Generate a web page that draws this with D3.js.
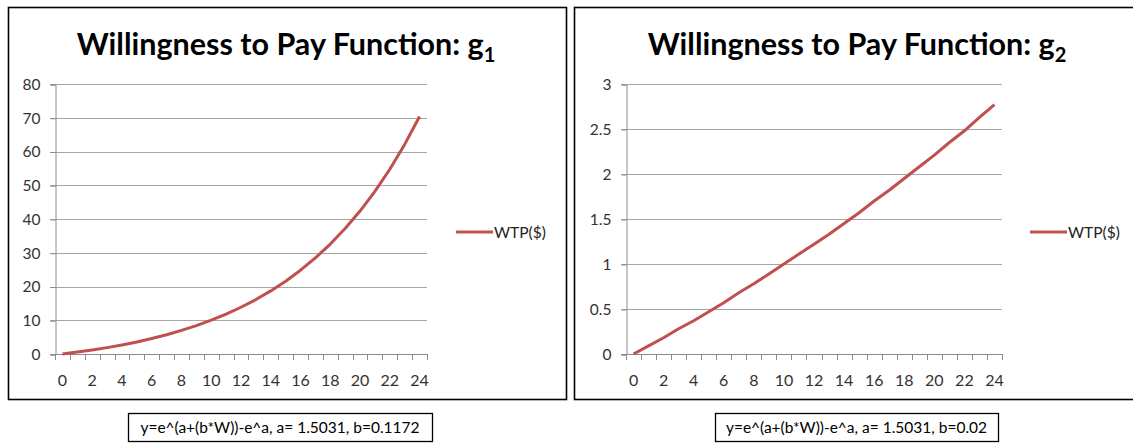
<!DOCTYPE html>
<html><head><meta charset="utf-8">
<script src="https://cdn.jsdelivr.net/npm/d3@7"></script>
<style>
body{margin:0;background:#fff;}
svg{display:block;}
text{font-family:Lato,"Open Sans",sans-serif;}
</style></head>
<body>
<svg id="c" width="1133" height="447"></svg>
<script>
// ---- data ----
const wealth = [0,1,2,3,4,5,6,7,8,9,10,11,12,13,14,15,16,17,18,19,20,21,22,23,24];
const wtpG1 = [0,0.56,1.19,1.89,2.69,3.58,4.59,5.72,6.99,8.41,10.02,11.82,13.85,16.13,18.70,21.58,24.83,28.47,32.57,37.18,42.36,48.19,54.74,62.10,70.38];
const wtpG2 = [0,0.09,0.18,0.28,0.37,0.47,0.57,0.68,0.78,0.89,1.00,1.11,1.22,1.33,1.45,1.57,1.70,1.82,1.95,2.08,2.21,2.35,2.48,2.63,2.77];
const xTickLabels = [0,2,4,6,8,10,12,14,16,18,20,22,24];
const yTicksG1 = [0,10,20,30,40,50,60,70,80];
const yTicksG2 = [0,0.5,1,1.5,2,2.5,3];
const seriesName = "WTP($)";
const titles = ["1","2"];
const formulas = ["y=e^(a+(b*W))-e^a, a= 1.5031, b=0.1172","y=e^(a+(b*W))-e^a, a= 1.5031, b=0.02"];

const svg = d3.select("#c");
const red = "#C0504D";

const panels = [
  {px:8.5, pw:558, plotL:55, plotR:427, values:wtpG1, yTicks:yTicksG1, yMax:80, titleX:286, legX:456, boxX:128, boxW:304, sub:titles[0], formula:formulas[0]},
  {px:574.5, pw:580, plotL:626, plotR:1002, values:wtpG2, yTicks:yTicksG2, yMax:3, titleX:857, legX:1030, boxX:715, boxW:283, sub:titles[1], formula:formulas[1]}
];

const plotTop = 84, plotBot = 354;

panels.forEach(p => {
  const g = svg.append("g");
  g.append("rect").attr("x",p.px).attr("y",7.5).attr("width",p.pw).attr("height",392)
    .attr("fill","#fff").attr("stroke","#000").attr("stroke-width",1.6);

  const x = d3.scaleBand().domain(wealth).range([p.plotL,p.plotR]).paddingInner(0).paddingOuter(0);
  const y = d3.scaleLinear().domain([0,p.yMax]).range([plotBot,plotTop]);

  // gridlines
  g.append("g").selectAll("line").data(p.yTicks.filter(d=>d>0)).join("line")
    .attr("x1",p.plotL-5).attr("x2",p.plotR)
    .attr("y1",d=>Math.round(y(d))+0.5).attr("y2",d=>Math.round(y(d))+0.5)
    .attr("stroke","#a6a6a6").attr("stroke-width",1);

  // y axis
  const yAx = d3.axisLeft(y).tickValues(p.yTicks).tickSize(5).tickPadding(10).tickFormat(d3.format("~g"));
  const ya = g.append("g").attr("transform",`translate(${p.plotL+0.5},0.5)`).call(yAx);
  ya.select(".domain").attr("stroke","#8c8c8c");
  ya.selectAll(".tick line").attr("stroke","#8c8c8c");
  ya.selectAll("text").attr("font-size",15.5).attr("fill","#333").attr("font-family","Lato");

  // x axis baseline
  g.append("line").attr("x1",p.plotL-5).attr("x2",p.plotR+0.5)
    .attr("y1",plotBot+0.5).attr("y2",plotBot+0.5).attr("stroke","#8c8c8c");
  // tick marks at category boundaries
  const bounds = wealth.map(d=>x(d)).concat([x(wealth[wealth.length-1])+x.bandwidth()]);
  g.append("g").selectAll("line").data(bounds).join("line")
    .attr("x1",d=>Math.round(d)+0.5).attr("x2",d=>Math.round(d)+0.5)
    .attr("y1",plotBot).attr("y2",plotBot+6).attr("stroke","#8c8c8c");
  // x labels
  g.append("g").selectAll("text").data(xTickLabels).join("text")
    .attr("x",d=>x(d)+x.bandwidth()/2).attr("y",385.5)
    .attr("text-anchor","middle").attr("font-size",16).attr("fill","#333")
    .text(d=>d);

  // line
  const line = d3.line().x((d,i)=>x(wealth[i])+x.bandwidth()/2).y(d=>y(d));
  g.append("path").datum(p.values).attr("d",line).attr("fill","none")
    .attr("stroke",red).attr("stroke-width",3).attr("stroke-linejoin","round");

  // title
  const t = g.append("text").attr("x",p.titleX).attr("y",55).attr("text-anchor","middle")
    .attr("font-size",30.5).attr("font-weight","bold").attr("fill","#000");
  t.append("tspan").text("Willingness to Pay Function: g");
  t.append("tspan").attr("font-size",20).attr("dy",7).text(p.sub);

  // legend
  g.append("line").attr("x1",p.legX).attr("x2",p.legX+37).attr("y1",232).attr("y2",232)
    .attr("stroke",red).attr("stroke-width",3);
  g.append("text").attr("x",p.legX+38).attr("y",237.5).attr("font-size",15.5).attr("fill","#222").text(seriesName);

  // formula box
  g.append("rect").attr("x",p.boxX+0.5).attr("y",413.5).attr("width",p.boxW).attr("height",28)
    .attr("fill","#fff").attr("stroke","#000").attr("stroke-width",1.3);
  g.append("text").attr("x",p.boxX+p.boxW/2).attr("y",432.5).attr("text-anchor","middle")
    .attr("font-size",15.5).attr("fill","#000").text(p.formula);
});
</script>
</body></html>
